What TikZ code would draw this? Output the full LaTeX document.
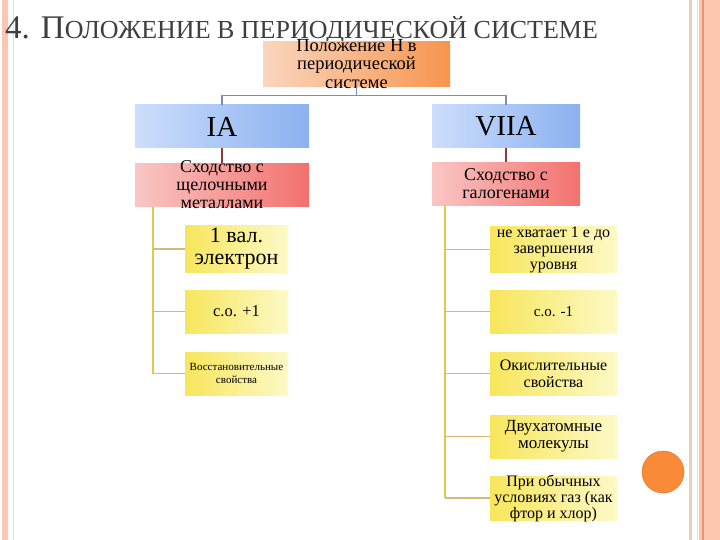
\documentclass[tikz,border=0pt]{standalone}
\usepackage{fontspec}
\setmainfont{Liberation Serif}
\definecolor{titleGrey}{HTML}{3F3F3F}
\definecolor{posL}{HTML}{FBD5BE}
\definecolor{posR}{HTML}{F7954E}
\definecolor{grpL}{HTML}{CCDEFC}
\definecolor{grpR}{HTML}{8BB1F0}
\definecolor{simL}{HTML}{F9C6C4}
\definecolor{simR}{HTML}{F2716E}
\definecolor{ylwL}{HTML}{F7E65C}
\definecolor{ylwR}{HTML}{FDF9C6}
\definecolor{hubBlue}{HTML}{7A8DB3}
\definecolor{linkRed}{HTML}{8C3B36}
\definecolor{spineGold}{HTML}{E4C84C}
\definecolor{twigTan}{HTML}{D8B878}
\definecolor{bandSalmon}{HTML}{FCC6B0}
\definecolor{bandTan}{HTML}{EBCFBC}
\definecolor{bandPale}{HTML}{F3DCCD}
\definecolor{bandOrange}{HTML}{F0906C}
\definecolor{dotOrange}{HTML}{F98A38}

\begin{document}
\begin{tikzpicture}[x=1pt, y=-1pt,
  card/.style={inner sep=0pt, align=center, text=black},
  posbox/.style={card, minimum width=187pt, minimum height=44pt, left color=posL, right color=posR},
  grpbox/.style={card, minimum width=#1, minimum height=43pt, left color=grpL, right color=grpR},
  simbox/.style={card, minimum width=#1, minimum height=43pt, left color=simL, right color=simR},
  ylwbox/.style={card, minimum width=#1, minimum height=43pt, left color=ylwL, right color=ylwR},
  hub/.style={draw=hubBlue, line width=1.4pt},
  link/.style={draw=linkRed, line width=1.4pt},
  spine/.style={draw=spineGold, line width=1.4pt},
  twig/.style={draw=twigTan, line width=1.4pt}]
  \useasboundingbox (0,0) rectangle (720,540);
  \fill[white] (0,0) rectangle (720,540);
  % Slide frame: stripe on the left, bands on the right
  \fill[bandSalmon] (2,0) rectangle (8,540);
  \draw[bandPale, line width=0.8pt] (13,0) -- (13,540);
  \fill[bandSalmon] (699,0) rectangle (720,540);
  \draw[bandTan, line width=3pt] (690.5,0) -- (690.5,540);
  \draw[bandPale, line width=1pt] (697,0) -- (697,540);
  \draw[bandOrange, line width=1.5pt] (703,0) -- (703,540);
  \draw[dotOrange!85!black!60!dotOrange, fill=dotOrange, line width=0.6pt] (663,472) circle (21);
  % Heading
  \node[anchor=base west, inner sep=0pt, text=titleGrey] (title) at (5,39)
    {\fontsize{33}{33}\selectfont 4. П\fontsize{26}{26}\selectfont ОЛОЖЕНИЕ В ПЕРИОДИЧЕСКОЙ СИСТЕМЕ};
  % Root and the two groups
  \node[posbox, inner ysep=-2.5pt, font=\fontsize{18.5}{18.5}\selectfont] (posH) at (356.5,64) {Положение Н в\\периодической\\системе};
  \node[grpbox=174pt, font=\fontsize{29}{29}\selectfont] (grIA) at (222,126.5) {IA};
  \node[grpbox=148pt, font=\fontsize{29}{29}\selectfont] (grVIIA) at (506,126.5) {VIIA};
  \node[simbox=174pt, inner ysep=-3pt, font=\fontsize{18}{18}\selectfont] (simIA) at (222,185) {Сходство с\\щелочными\\металлами};
  \node[simbox=148pt, font=\fontsize{18}{18}\selectfont] (simVIIA) at (506,184) {Сходство с\\галогенами};
  % Left column (IA)
  \node[ylwbox=103pt, minimum height=46pt, inner ysep=-1pt, font=\fontsize{22}{22}\selectfont] (l1) at (236.5,249) {1 вал.\\электрон};
  \node[ylwbox=103pt, font=\fontsize{16.5}{17}\selectfont] (l2) at (236.5,311.5) {с.о. +1};
  \node[ylwbox=103pt, font=\fontsize{11}{13}\selectfont] (l3) at (236.5,373.5) {Восстановительные\\свойства};
  % Right column (VIIA)
  \node[ylwbox=127pt, minimum height=45pt, inner ysep=-2pt, font=\fontsize{16}{16}\selectfont] (r1) at (553.5,249.5) {не хватает 1 е до\\завершения\\уровня};
  \node[ylwbox=127pt, font=\fontsize{15}{15}\selectfont] (r2) at (553.5,311.5) {с.о. -1};
  \node[ylwbox=127pt, font=\fontsize{16}{17}\selectfont] (r3) at (553.5,373.5) {Окислительные\\свойства};
  \node[ylwbox=127pt, font=\fontsize{17}{17}\selectfont] (r4) at (553.5,436.5) {Двухатомные\\молекулы};
  \node[ylwbox=127pt, minimum height=44pt, inner ysep=-2pt, font=\fontsize{16}{16}\selectfont] (r5) at (553.5,498) {При обычных\\условиях газ (как\\фтор и хлор)};
  % Connectors
  \draw[hub] (posH.south) -- ++(0,9) -| (grIA.north);
  \draw[hub] (posH.south) -- ++(0,9) -| (grVIIA.north);
  \draw[link] (grIA) -- (simIA);
  \draw[link] (grVIIA) -- (simVIIA);
  \coordinate (spineL) at (153,207);
  \coordinate (spineR) at (445,205);
  \draw[spine] (spineL) -- (spineL |- l3.west);
  \draw[spine] (spineR) -- (spineR |- r5.west);
  \foreach \b in {l1,l2,l3} \draw[twig] (spineL |- \b.west) -- (\b.west);
  \foreach \b in {r1,r2,r3,r4,r5} \draw[twig] (spineR |- \b.west) -- (\b.west);
\end{tikzpicture}
\end{document}
